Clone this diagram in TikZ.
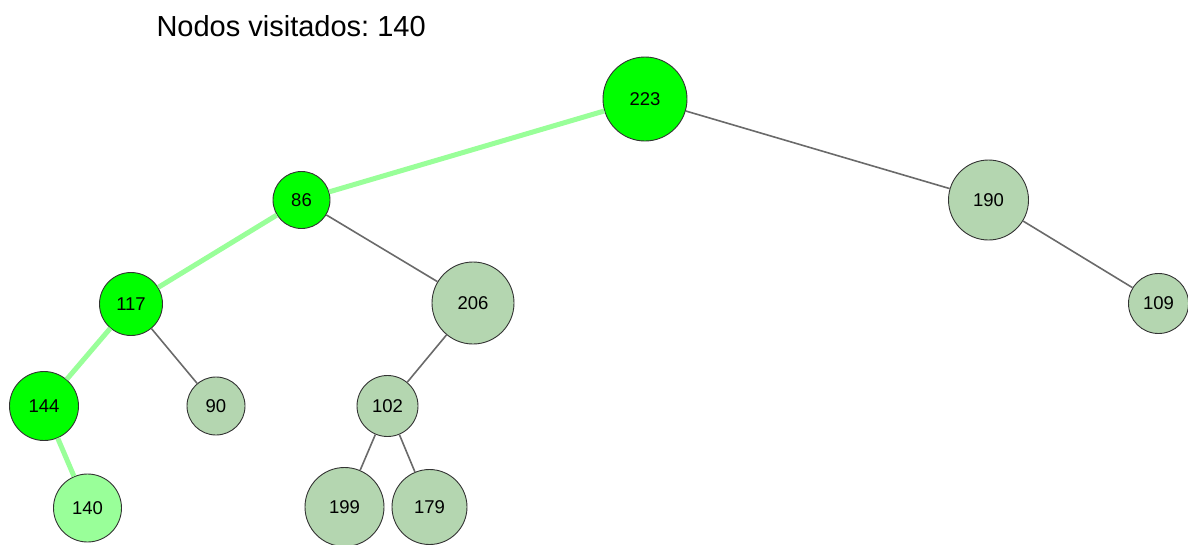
\documentclass[tikz,border=0pt]{standalone}
\usepackage{fontspec}
\setmainfont{Liberation Sans}
\frenchspacing
\definecolor{visited}{HTML}{00FF00}
\definecolor{found}{HTML}{99FF99}
\definecolor{plain}{HTML}{B4D6B0}
\definecolor{edgegray}{HTML}{6A6A6A}
\definecolor{rim}{HTML}{333333}
\tikzset{
  tnode/.style={circle, draw=rim, line width=0.9pt, inner sep=0pt,
    font=\fontsize{18.5}{18.5}\selectfont, text=black},
  edge/.style={draw=edgegray, line width=1.6pt},
  pathedge/.style={draw=found, line width=5pt},
}
\begin{document}
\begin{tikzpicture}[x=1pt,y=-1pt]
\useasboundingbox (0,0) rectangle (1188,544);
\node[anchor=base west, font=\fontsize{29}{29}\selectfont] (title) at (153,36) {Nodos visitados: 140};

\node[tnode, fill=visited, minimum size=84pt] (n223) at (645,99) {223};
\node[tnode, fill=visited, minimum size=57pt] (n86) at (301.5,200) {86};
\node[tnode, fill=plain, minimum size=80pt] (n190) at (988.5,200) {190};
\node[tnode, fill=visited, minimum size=63pt] (n117) at (131,304) {117};
\node[tnode, fill=plain, minimum size=82pt] (n206) at (473,303) {206};
\node[tnode, fill=plain, minimum size=60pt] (n109) at (1158.5,303.5) {109};
\node[tnode, fill=visited, minimum size=69pt] (n144) at (44,406) {144};
\node[tnode, fill=plain, minimum size=58pt] (n90) at (216,406) {90};
\node[tnode, fill=plain, minimum size=61pt] (n102) at (387.5,406) {102};
\node[tnode, fill=found, minimum size=68pt] (n140) at (87.5,508) {140};
\node[tnode, fill=plain, minimum size=79pt] (n199) at (344.5,507) {199};
\node[tnode, fill=plain, minimum size=75pt] (n179) at (429.5,507) {179};

\path[pathedge] (n223) -- (n86);
\path[pathedge] (n86) -- (n117);
\path[pathedge] (n117) -- (n144);
\path[pathedge] (n144) -- (n140);
\path[edge] (n223) -- (n190);
\path[edge] (n190) -- (n109);
\path[edge] (n86) -- (n206);
\path[edge] (n117) -- (n90);
\path[edge] (n206) -- (n102);
\path[edge] (n102) -- (n199);
\path[edge] (n102) -- (n179);
\end{tikzpicture}
\end{document}
